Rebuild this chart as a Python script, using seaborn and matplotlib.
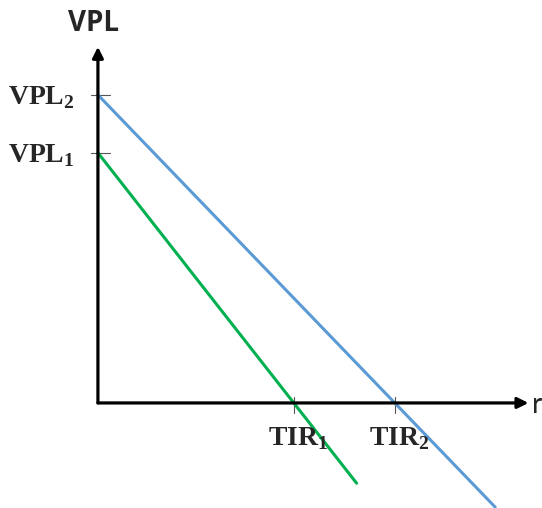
import matplotlib
matplotlib.use("Agg")
import matplotlib.pyplot as plt
import seaborn as sns
import pandas as pd

# valores (unidades arbitrárias)
projetos = ["Projeto 1", "Projeto 2"]
vpl = [8.12, 10.0]          # VPL1, VPL2 (intercepto no eixo y)
tir = [6.36, 9.64]          # TIR1, TIR2 (intercepto no eixo r)
r_fim = [8.4, 12.9]         # até onde cada reta se estende
rotulos_vpl = [r"VPL$_\mathbf{1}$", r"VPL$_\mathbf{2}$"]
rotulos_tir = [r"TIR$_\mathbf{1}$", r"TIR$_\mathbf{2}$"]
cores = ["#00B050", "#5B9BD5"]

linhas = []
for p, v, t, rf in zip(projetos, vpl, tir, r_fim):
    linhas.append({"projeto": p, "r": 0.0, "vpl": v})
    linhas.append({"projeto": p, "r": rf, "vpl": v * (1 - rf / t)})
df = pd.DataFrame(linhas)

sns.set_style("white")
plt.rcParams["mathtext.fontset"] = "custom"
plt.rcParams["mathtext.rm"] = "Liberation Serif:bold"
plt.rcParams["mathtext.bf"] = "Liberation Serif:bold"

fig = plt.figure(figsize=(5.42, 5.08), dpi=100)
ax = fig.add_axes([0, 0, 1, 1])

sns.lineplot(data=df, x="r", y="vpl", hue="projeto", palette=cores,
             linewidth=2.2, legend=False, ax=ax)

# limites escolhidos para posicionar a origem como na figura
ax.set_xlim(-3.18, 14.42)
ax.set_ylim(-3.41, 13.08)
ax.axis("off")

# eixos com seta
ax.annotate("", xy=(13.98, 0), xytext=(0, 0),
            arrowprops=dict(arrowstyle="-|>", lw=2.3, color="black", mutation_scale=16,
                            shrinkA=0, shrinkB=0))
ax.annotate("", xy=(0, 11.56), xytext=(0, 0),
            arrowprops=dict(arrowstyle="-|>", lw=2.3, color="black", mutation_scale=16,
                            shrinkA=0, shrinkB=0))

# marcas e rótulos
for v, lab in zip(vpl, rotulos_vpl):
    ax.plot([-0.23, 0.39], [v, v], color="#555555", lw=0.8, zorder=1)
    ax.annotate(lab, xy=(0, v), xytext=(-16.5, -6.5), textcoords="offset points",
                ha="right", va="baseline", fontsize=20, fontweight="bold",
                family="Liberation Serif")
for t, lab in zip(tir, rotulos_tir):
    ax.plot([t, t], [-0.32, 0.2], color="#555555", lw=0.8, zorder=1)
    ax.annotate(lab, xy=(t, 0), xytext=(3, -30.5), textcoords="offset points",
                ha="center", va="baseline", fontsize=20, fontweight="bold",
                family="Liberation Serif")

ax.annotate("VPL", xy=(0, 11.56), xytext=(-3.5, 17), textcoords="offset points",
            ha="center", va="center", fontsize=20, fontweight="bold",
            family="Open Sans")
ax.annotate("r", xy=(13.98, 0), xytext=(2.5, -7), textcoords="offset points",
            ha="left", va="baseline", fontsize=20, family="Lato")

fig.savefig("out.png", dpi=100)
